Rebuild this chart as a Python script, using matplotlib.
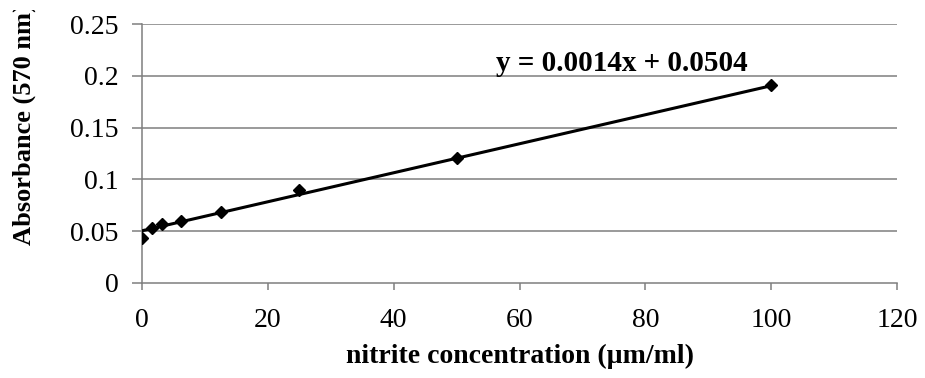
import matplotlib
matplotlib.use("Agg")
import matplotlib.pyplot as plt
from matplotlib.patches import Rectangle
import numpy as np

# nitrite standard curve
conc = [0, 1.5625, 3.125, 6.25, 12.5, 25, 50, 100]
absorb = [0.043, 0.053, 0.057, 0.060, 0.069, 0.090, 0.121, 0.191]
slope = 0.0014
intercept = 0.0504
xticks = [0, 20, 40, 60, 80, 100, 120]
yticks = [0, 0.05, 0.1, 0.15, 0.2, 0.25]
ytick_labels = ["0", "0.05", "0.1", "0.15", "0.2", "0.25"]

plt.rcParams['font.family'] = ['Liberation Serif', 'DejaVu Serif']

W, H = 925, 378
fig = plt.figure(figsize=(W / 100, H / 100), dpi=100)
ax = fig.add_axes([142 / W, 1 - 283 / H, 755 / W, 259 / H])

grid_col = "#7f7f7f"
for yv in yticks[1:]:
    ax.axhline(yv, color=grid_col, lw=1.1, zorder=1)

fit_x = np.array([conc[0], conc[-1]])
ax.plot(fit_x, slope * fit_x + intercept, color="black", lw=2.2, zorder=3)
ax.plot(conc, absorb, linestyle="none", marker="D", ms=6.5, color="black", zorder=4)

ax.set_xlim(0, 120)
ax.set_ylim(0, 0.25)
ax.set_xticks(xticks)
ax.set_yticks(yticks)
ax.set_yticklabels(ytick_labels)

for s in ["top", "right"]:
    ax.spines[s].set_visible(False)
for s in ["left", "bottom"]:
    ax.spines[s].set_color(grid_col)
    ax.spines[s].set_linewidth(1.1)
ax.tick_params(axis="both", colors=grid_col, width=1.1, labelsize=20,
               labelcolor="black")
ax.tick_params(axis="y", length=7, pad=10)
ax.tick_params(axis="x", length=5, pad=13)

xl = ax.set_xlabel("nitrite concentration (\u00b5m/ml)", fontsize=20, fontweight="bold")
xl.set_va("center")
ax.xaxis.set_label_coords(0.5, (283 - 356) / 259)

yl = fig.text(24 / W, 1 - 245 / H, "Absorbance (570 nm)", rotation=90, fontsize=19,
              fontweight="bold", ha="center", va="bottom")
# the top of the label is cut off in the original
yl.set_clip_path(Rectangle((0, 0), 1, 1 - 10 / H, transform=fig.transFigure))

ax.text(76.2, 0.2045, "y = 0.0014x + 0.0504", fontsize=21, fontweight="bold",
        ha="center", va="baseline")

fig.savefig("out.png", dpi=100)
